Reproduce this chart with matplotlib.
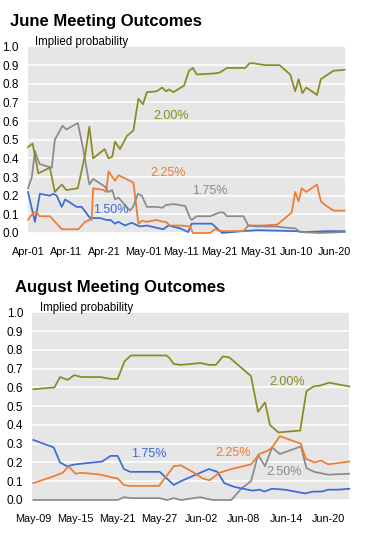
import matplotlib
matplotlib.use('Agg')
from matplotlib import pyplot as plt

plt.rcParams['font.family'] = ['Liberation Sans', 'DejaVu Sans']

OLIVE = '#8a8a22'
ORANGE = '#ef7b30'
BLUE = '#3b6bd6'
GRAY = '#8a8a8a'
BG = '#e6e6e6'

# ---- June meeting (x = days since Apr-01) ----
june_ticks = ['Apr-01', 'Apr-11', 'Apr-21', 'May-01', 'May-11',
              'May-21', 'May-31', 'Jun-10', 'Jun-20']

june_200_x = [0, 1.2, 2.7, 5.7, 7, 8.8, 10, 13, 15, 16, 17, 20, 21, 22, 22.7, 24, 25.8,
              27.5, 28.8, 30, 31, 33.6, 35, 36, 36.8, 37.9, 40.7, 42, 43, 44, 48.3, 50,
              51.9, 56.7, 57.8, 58.8, 61.9, 65.6, 68.4, 69.7, 70.6, 71.6, 72.6, 75.4,
              76.4, 77.5, 79.7, 82.6]
june_200_y = [0.46, 0.48, 0.32, 0.35, 0.22, 0.26, 0.23, 0.24, 0.43, 0.57, 0.40, 0.45,
              0.40, 0.41, 0.49, 0.45, 0.52, 0.55, 0.72, 0.69, 0.755, 0.76, 0.78, 0.76,
              0.77, 0.755, 0.79, 0.87, 0.885, 0.85, 0.855, 0.86, 0.885, 0.885, 0.91,
              0.91, 0.90, 0.90, 0.85, 0.76, 0.825, 0.75, 0.78, 0.74, 0.825, 0.84, 0.87,
              0.875]

june_175_x = [0, 1, 1.8, 3, 6.2, 7, 9, 10, 13, 14.5, 16, 17, 20, 21, 22, 22.7, 23.6,
              25.3, 26.6, 27.4, 28.7, 29.7, 31, 33.6, 35, 36, 38, 41, 42.3, 42.7, 44,
              47.5, 50, 51, 51.9, 56.2, 57.5, 59.7, 64.9, 66.5, 69.7, 71, 76, 82.6]
june_175_y = [0.24, 0.30, 0.44, 0.37, 0.35, 0.50, 0.575, 0.555, 0.59, 0.44, 0.26, 0.29,
              0.25, 0.22, 0.23, 0.18, 0.19, 0.15, 0.12, 0.14, 0.21, 0.20, 0.14, 0.14,
              0.135, 0.15, 0.155, 0.145, 0.08, 0.07, 0.09, 0.09, 0.11, 0.11, 0.09, 0.09,
              0.04, 0.035, 0.035, 0.03, 0.025, 0.005, 0.0, 0.005]

june_225_x = [0, 1.4, 2.3, 3, 5.7, 7.5, 8.8, 13.1, 14.9, 16, 16.6, 17, 19.7, 20.4, 21,
              22.7, 23.6, 27.5, 28.8, 29.7, 31, 33.6, 35.3, 36, 37, 40, 42.3, 43, 47.5,
              48.7, 50.5, 56.2, 57.5, 61, 65, 66.5, 68.8, 69.7, 70.6, 71.4, 72.6, 75.4,
              76.4, 77.5, 79.7, 82.6]
june_225_y = [0.07, 0.11, 0.11, 0.09, 0.09, 0.05, 0.02, 0.02, 0.06, 0.07, 0.07, 0.24,
              0.23, 0.22, 0.33, 0.28, 0.31, 0.27, 0.05, 0.065, 0.06, 0.07, 0.06, 0.06,
              0.04, 0.04, 0.035, 0.0, 0.0, 0.02, 0.01, 0.01, 0.04, 0.04, 0.045, 0.07,
              0.11, 0.22, 0.17, 0.24, 0.22, 0.26, 0.17, 0.15, 0.12, 0.12]

june_150_x = [0, 1.8, 3.1, 5.7, 6.6, 7.5, 8.8, 9.7, 12.7, 14, 16.2, 18.8, 20.5, 21.5,
              22.7, 23.6, 25.3, 27, 29.2, 31, 35.3, 36.6, 39.7, 41.8, 42.7, 48, 50.6,
              56, 60, 70, 72, 78, 82.6]
june_150_y = [0.22, 0.06, 0.21, 0.20, 0.21, 0.20, 0.14, 0.18, 0.14, 0.14, 0.08, 0.08,
              0.07, 0.07, 0.05, 0.06, 0.04, 0.055, 0.035, 0.04, 0.02, 0.04, 0.025,
              0.005, 0.05, 0.05, 0.0, 0.01, 0.015, 0.01, 0.005, 0.01, 0.01]

# ---- August meeting (x = days since May-09) ----
aug_ticks = ['May-09', 'May-15', 'May-21', 'May-27', 'Jun-02', 'Jun-08', 'Jun-14', 'Jun-20']

aug_200_x = [0, 3, 3.8, 4.9, 5.8, 6.9, 9.6, 11, 12, 13, 13.9, 18.9, 19.3, 20, 21, 22.5,
             23.8, 25, 26, 27, 27.9, 31, 32, 33, 33.7, 34.9, 38, 38.9, 39.9, 40.9, 42.1, 45]
aug_200_y = [0.59, 0.60, 0.655, 0.64, 0.665, 0.655, 0.655, 0.645, 0.645, 0.74, 0.77,
             0.77, 0.76, 0.725, 0.72, 0.725, 0.73, 0.72, 0.72, 0.765, 0.76, 0.66, 0.47,
             0.52, 0.40, 0.36, 0.37, 0.58, 0.605, 0.61, 0.625, 0.605]

aug_175_x = [0, 2.9, 3.8, 4.8, 6, 9.8, 11, 12, 12.9, 13.8, 17.1, 18, 20, 21, 25, 26.2,
             27.2, 28.6, 31.2, 32.2, 32.9, 34, 35.8, 37.3, 38.7, 39.9, 41.1, 42, 43.4, 45]
aug_175_y = [0.32, 0.28, 0.20, 0.18, 0.19, 0.205, 0.235, 0.235, 0.165, 0.15, 0.15, 0.15,
             0.08, 0.10, 0.165, 0.15, 0.09, 0.07, 0.05, 0.055, 0.045, 0.06, 0.055, 0.045,
             0.035, 0.045, 0.045, 0.055, 0.055, 0.06]

aug_225_x = [0, 2.4, 4.2, 5, 6, 6.9, 9.6, 11.2, 12, 12.9, 13.6, 17.9, 20, 21, 22.9, 24.1,
             25.1, 26.5, 28.2, 31, 32.2, 33.2, 33.9, 35.1, 38.1, 38.8, 40, 41, 42, 43, 45]
aug_225_y = [0.09, 0.12, 0.145, 0.18, 0.14, 0.145, 0.135, 0.12, 0.115, 0.08, 0.075,
             0.075, 0.18, 0.185, 0.145, 0.115, 0.105, 0.145, 0.165, 0.19, 0.245, 0.26,
             0.275, 0.34, 0.30, 0.22, 0.20, 0.21, 0.19, 0.195, 0.205]

aug_250_x = [0, 12, 12.9, 13.9, 17.9, 19.1, 20, 21, 23.8, 24.9, 25.6, 28.2, 29.6, 31, 32,
             33, 34, 35.1, 38.1, 38.9, 40, 42, 45]
aug_250_y = [0.0, 0.0, 0.015, 0.01, 0.01, 0.0, 0.01, 0.0, 0.015, 0.005, 0.0, 0.0, 0.06,
             0.10, 0.24, 0.18, 0.28, 0.245, 0.285, 0.17, 0.15, 0.135, 0.14]


def style_axes(ax, xlim, ticks, step):
    ax.set_facecolor(BG)
    for s in ax.spines.values():
        s.set_visible(False)
    ax.set_ylim(0, 1)
    ax.set_xlim(*xlim)
    ax.set_yticks([i / 10 for i in range(11)])
    ax.set_yticklabels([f'{i / 10:.1f}' for i in range(11)], fontsize=8.5)
    ax.set_xticks([i * step for i in range(len(ticks))])
    ax.set_xticklabels(ticks, fontsize=7.8)
    ax.tick_params(axis='both', length=0)
    ax.tick_params(axis='y', pad=6.5)
    ax.tick_params(axis='x', pad=10)
    ax.grid(axis='y', color='white', linewidth=1.1)
    ax.set_axisbelow(True)


fig = plt.figure(figsize=(3.8, 5.55), dpi=100)
lw = 1.25

# June chart
ax1 = fig.add_axes([28 / 380, 1 - 233 / 555, 317 / 380, 186.5 / 555])
style_axes(ax1, (0, 82.7), june_ticks, 10)
ax1.plot(june_150_x, june_150_y, color=BLUE, lw=lw, clip_on=False)
ax1.plot(june_225_x, june_225_y, color=ORANGE, lw=lw, clip_on=False)
ax1.plot(june_175_x, june_175_y, color=GRAY, lw=lw, clip_on=False)
ax1.plot(june_200_x, june_200_y, color=OLIVE, lw=lw, clip_on=False)
ax1.text(37.3, 0.63, '2.00%', color=OLIVE, fontsize=9, ha='center', va='center')
ax1.text(36.6, 0.324, '2.25%', color=ORANGE, fontsize=9, ha='center', va='center')
ax1.text(47.5, 0.226, '1.75%', color=GRAY, fontsize=9, ha='center', va='center')
ax1.text(21.7, 0.124, '1.50%', color=BLUE, fontsize=9, ha='center', va='center')
fig.text(10 / 380, 1 - 26 / 555, 'June Meeting Outcomes', fontsize=12,
         fontweight='bold', ha='left', va='baseline')
fig.text(35 / 380, 1 - 45 / 555, 'Implied probability', fontsize=8.3,
         ha='left', va='baseline')

# August chart
ax2 = fig.add_axes([32.3 / 380, 1 - 500 / 555, 317 / 380, 187.7 / 555])
style_axes(ax2, (-0.15, 45), aug_ticks, 6)
ax2.plot(aug_250_x, aug_250_y, color=GRAY, lw=lw, clip_on=False)
ax2.plot(aug_175_x, aug_175_y, color=BLUE, lw=lw, clip_on=False)
ax2.plot(aug_225_x, aug_225_y, color=ORANGE, lw=lw, clip_on=False)
ax2.plot(aug_200_x, aug_200_y, color=OLIVE, lw=lw, clip_on=False)
ax2.text(36.1, 0.628, '2.00%', color=OLIVE, fontsize=9, ha='center', va='center')
ax2.text(16.5, 0.245, '1.75%', color=BLUE, fontsize=9, ha='center', va='center')
ax2.text(28.4, 0.248, '2.25%', color=ORANGE, fontsize=9, ha='center', va='center')
ax2.text(35.7, 0.15, '2.50%', color=GRAY, fontsize=9, ha='center', va='center')
fig.text(15 / 380, 1 - 291.7 / 555, 'August Meeting Outcomes', fontsize=12,
         fontweight='bold', ha='left', va='baseline')
fig.text(40 / 380, 1 - 311.5 / 555, 'Implied probability', fontsize=8.3,
         ha='left', va='baseline')

fig.savefig('out.png', dpi=100)
